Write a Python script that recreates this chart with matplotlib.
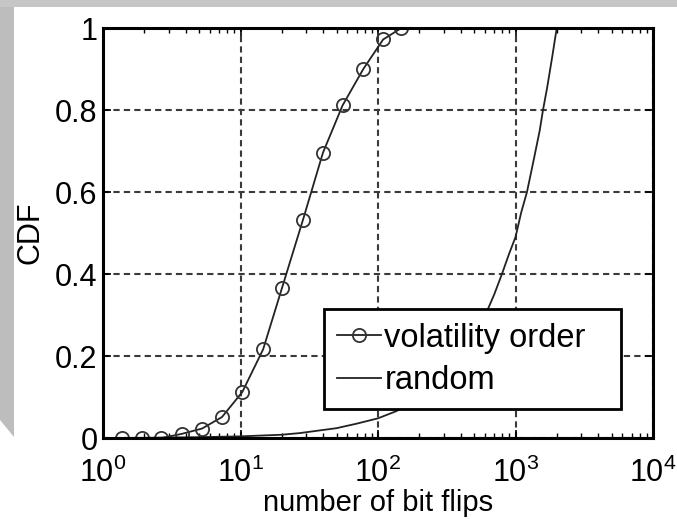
import matplotlib
matplotlib.use('Agg')
import matplotlib.pyplot as plt
from matplotlib.patches import Polygon
from matplotlib.ticker import LogLocator, FixedLocator

plt.rcParams['font.family'] = ['Liberation Sans', 'DejaVu Sans']
plt.rcParams['mathtext.fontset'] = 'custom'
plt.rcParams['mathtext.rm'] = 'Liberation Sans'

# volatility order CDF
vol_x = [1.37, 1.92, 2.66, 3.73, 5.25, 7.33, 10.3, 14.6, 20.0, 28.4, 39.8, 55.2, 78.2, 109, 148]
vol_y = [0.0, 0.0, 0.0, 0.01, 0.023, 0.051, 0.112, 0.216, 0.365, 0.531, 0.696, 0.811, 0.90, 0.972, 1.0]

# random CDF
rnd_x = [1, 2, 5, 10, 20, 27, 50, 70, 100, 137, 200, 300, 400, 500, 631, 700, 797,
         900, 1000, 1100, 1212, 1350, 1500, 1585, 1700, 1850, 1995, 10000]
rnd_y = [0.0, 0.0005, 0.002, 0.004, 0.008, 0.012, 0.024, 0.035, 0.048, 0.066, 0.10, 0.15,
         0.20, 0.25, 0.315, 0.35, 0.40, 0.45, 0.49, 0.55, 0.60, 0.675, 0.75, 0.80,
         0.855, 0.93, 1.0, 1.0]

ytick_vals = [0, 0.2, 0.4, 0.6, 0.8, 1]
ytick_labels = ['0', '0.2', '0.4', '0.6', '0.8', '1']

fig = plt.figure(figsize=(6.77, 5.19), dpi=100)
fig.patch.set_facecolor('white')

# slide-like gray border
W, H = 677.0, 519.0
fig.add_artist(Polygon([(0, 1), (1, 1), (1, 1 - 7 / H), (0, 1 - 7 / H)],
                       closed=True, transform=fig.transFigure, facecolor='#c6c6c6', edgecolor='none'))
fig.add_artist(Polygon([(0, 1 - 7 / H), (14 / W, 1 - 7 / H), (14 / W, 1 - 437 / H), (0, 1 - 420 / H)],
                       closed=True, transform=fig.transFigure, facecolor='#bdbdbd', edgecolor='none'))

ax = fig.add_axes([103 / W, 1 - 438 / H, 550 / W, 410 / H])

ax.plot(vol_x, vol_y, color='#222222', lw=1.3, marker='o', ms=9.5, mfc='none',
        mec='#333333', mew=1.3, label='volatility order')
ax.plot(rnd_x, rnd_y, color='#222222', lw=1.3, label='random')

ax.set_xscale('log')
ax.set_xlim(1, 1e4)
ax.set_ylim(0, 1)
ax.xaxis.set_major_locator(LogLocator(base=10, numticks=10))
ax.xaxis.set_minor_locator(LogLocator(base=10, subs=range(2, 10), numticks=20))
ax.yaxis.set_major_locator(FixedLocator(ytick_vals))
ax.set_yticklabels(ytick_labels)

ax.grid(True, which='major', color='#3a3a3a', linestyle=(0, (3, 2)), lw=1.5)
ax.tick_params(which='both', direction='in', top=True, right=True, labelsize=22, colors='black')
ax.tick_params(which='major', length=6, width=1.2, pad=4)
ax.tick_params(axis='x', which='major', pad=14)
ax.tick_params(which='minor', length=3.5, width=1.0)
for s in ax.spines.values():
    s.set_linewidth(2.2)

ax.set_xlabel('number of bit flips', fontsize=21, labelpad=0)
ax.set_ylabel('CDF', fontsize=22, labelpad=7)

leg = ax.legend(loc='lower left', bbox_to_anchor=(0.402, 0.0707, 0.54, 0.244), mode='expand',
                fontsize=23.5, frameon=True, fancybox=False, handlelength=1.35,
                handletextpad=0.1, borderpad=0.4, labelspacing=0.35, borderaxespad=0)
leg.get_frame().set_edgecolor('black')
leg.get_frame().set_linewidth(2.0)
leg.get_frame().set_alpha(1)

fig.savefig('out.png', dpi=100, facecolor=fig.get_facecolor())
